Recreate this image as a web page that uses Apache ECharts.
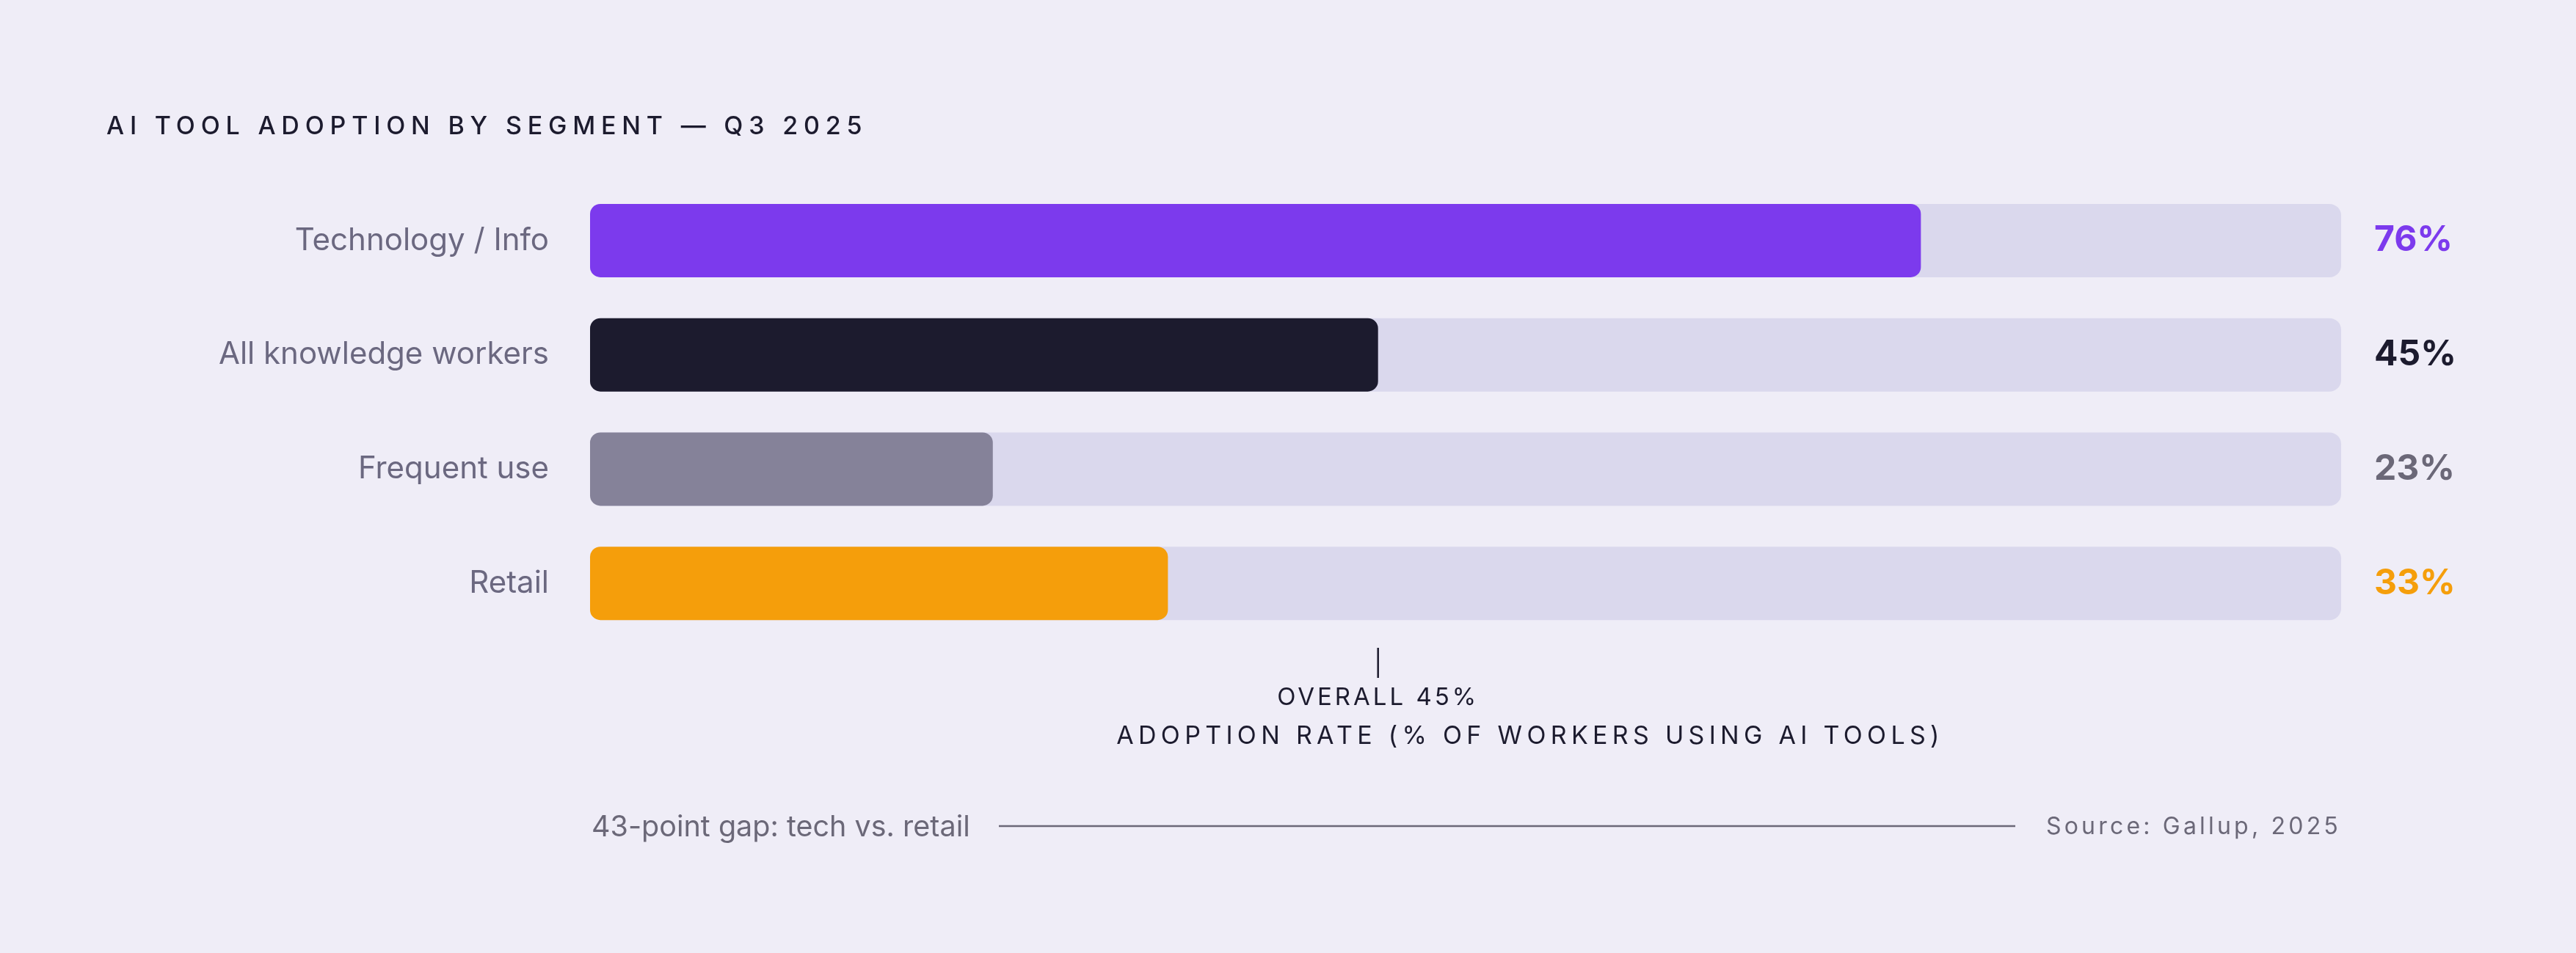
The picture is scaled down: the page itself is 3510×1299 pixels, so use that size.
<!DOCTYPE html>
<html>
<head>
<meta charset="utf-8">
<script src="https://cdn.jsdelivr.net/npm/echarts@6/dist/echarts.min.js"></script>
<style>
html,body{margin:0;padding:0;background:#efedf7;}
#chart{width:3510px;height:1299px;}
</style>
</head>
<body>
<div id="chart"></div>
<script>
// letter-spacing support: font family marker "lsN" => N/10 px letter spacing
(function(){
  var P = CanvasRenderingContext2D.prototype;
  if (!('letterSpacing' in P)) return;
  ['fillText','strokeText','measureText'].forEach(function(name){
    var orig = P[name];
    P[name] = function(){
      var m = /ls(\d+)/.exec(this.font || '');
      this.letterSpacing = m ? ((+m[1]) / 10 + 'px') : '0px';
      return orig.apply(this, arguments);
    };
  });
})();

var titleText = 'AI TOOL ADOPTION BY SEGMENT — Q3 2025';
var categories = ['Technology / Info', 'All knowledge workers', 'Frequent use', 'Retail'];
var values = [76, 45, 23, 33];
var barColors = ['#7c3aed', '#1c1b2e', '#858299', '#f59e0b'];
var labelColors = ['#7c3aed', '#1c1b2e', '#6b6878', '#f59e0b'];
var trackMax = 100;
var overallValue = 45;
var overallLabel = 'OVERALL 45%';
var axisName = 'ADOPTION RATE (% OF WORKERS USING AI TOOLS)';
var footerLeft = '43-point gap: tech vs. retail';
var footerRight = 'Source: Gallup, 2025';

var chart = echarts.init(document.getElementById('chart'), null, {renderer: 'canvas'});

var trackData = categories.map(function(c, i){
  return {
    value: trackMax,
    label: { color: labelColors[i] }
  };
});
var valueData = values.map(function(v, i){
  return { value: v, itemStyle: { color: barColors[i] } };
});

var option = {
  backgroundColor: '#efedf7',
  animation: false,
  textStyle: { fontFamily: 'Inter' },
  grid: { left: 804, right: 320, top: 250, bottom: 426, containLabel: false },
  xAxis: {
    type: 'value', min: 0, max: trackMax,
    show: false
  },
  yAxis: {
    type: 'category',
    data: categories,
    inverse: true,
    axisLine: { show: false },
    axisTick: { show: false },
    splitLine: { show: false },
    axisLabel: {
      margin: 56,
      fontSize: 42,
      fontFamily: 'Inter',
      color: '#6b6880',
      padding: [4, 0, 0, 0]
    }
  },
  series: [
    {
      type: 'bar',
      data: trackData,
      barWidth: 100,
      barGap: '-100%',
      silent: true,
      z: 1,
      itemStyle: { color: '#dad8ed', borderRadius: 16 },
      label: {
        show: true,
        position: 'right',
        distance: 45,
        fontSize: 48,
        fontWeight: 700,
        fontFamily: 'Inter',
        padding: [4, 0, 0, 0],
        formatter: function(p){ return values[p.dataIndex] + '%'; }
      }
    },
    {
      type: 'bar',
      data: valueData,
      barWidth: 100,
      z: 2,
      itemStyle: { borderRadius: 14 }
    },
    {
      type: 'custom',
      silent: true,
      z: 3,
      data: [[overallValue, categories.length - 1]],
      encode: { x: 0, y: 1 },
      renderItem: function(params, api){
        var pt = api.coord([api.value(0), api.value(1)]);
        var cs = params.coordSys;
        var bottom = cs.y + cs.height;
        return {
          type: 'group',
          children: [
            {
              type: 'line',
              shape: { x1: pt[0], y1: bottom + 10, x2: pt[0], y2: bottom + 51 },
              style: { stroke: '#1c1b2e', lineWidth: 2.5 }
            },
            {
              type: 'text',
              style: {
                x: pt[0], y: bottom + 78,
                text: overallLabel,
                fill: '#1c1b2e',
                font: '400 33px ls40, Inter',
                textAlign: 'center',
                textVerticalAlign: 'middle'
              }
            }
          ]
        };
      }
    }
  ],
  graphic: [
    {
      type: 'text', left: 145, top: 152,
      style: { text: titleText, fill: '#1c1b2e', font: '500 34px ls78, Inter' }
    },
    {
      type: 'text', x: 2085, y: 1004,
      style: { text: axisName, fill: '#1c1b2e', font: '400 34px ls63, Inter', textAlign: 'center', textVerticalAlign: 'middle' }
    },
    {
      type: 'text', x: 806, y: 1128,
      style: { text: footerLeft, fill: '#6b6878', font: '400 39.5px Inter', textAlign: 'left', textVerticalAlign: 'middle' }
    },
    {
      type: 'line',
      shape: { x1: 1361, y1: 1126, x2: 2746, y2: 1126 },
      style: { stroke: '#6b6878', lineWidth: 2.5 }
    },
    {
      type: 'text', x: 3190, y: 1127,
      style: { text: footerRight, fill: '#6b6878', font: '400 32px ls42, Inter', textAlign: 'right', textVerticalAlign: 'middle' }
    }
  ]
};
chart.setOption(option);
</script>
</body>
</html>
